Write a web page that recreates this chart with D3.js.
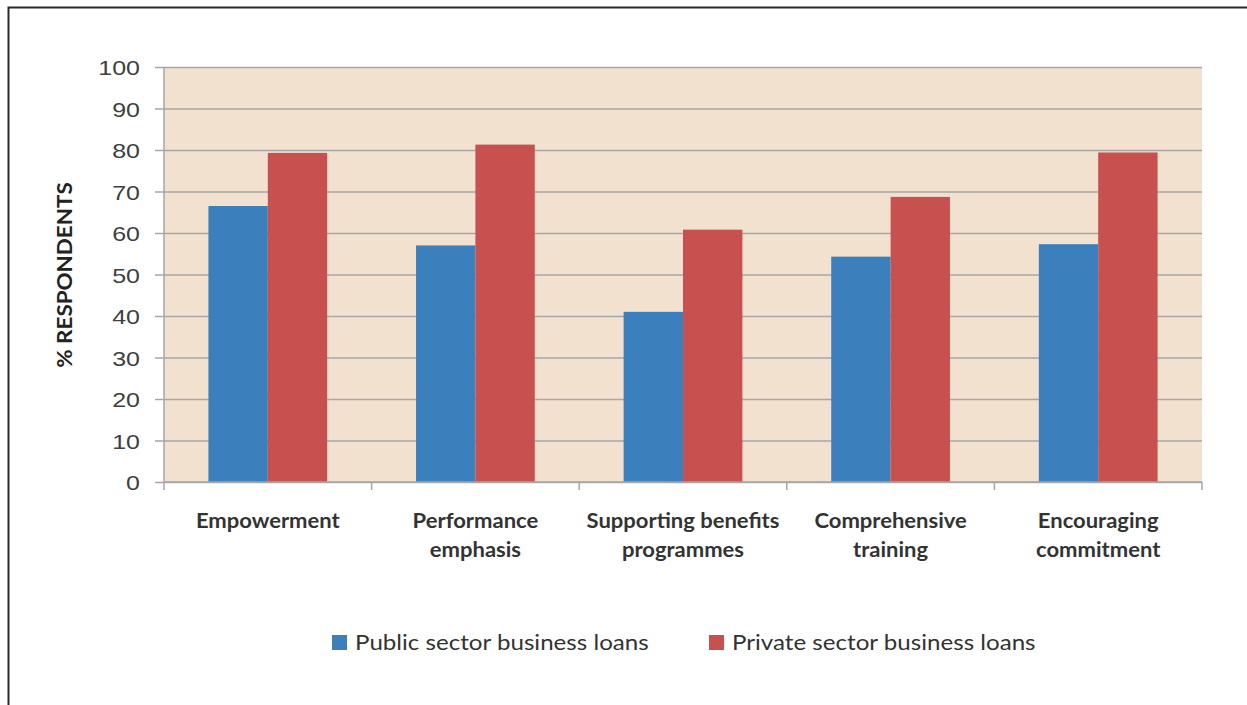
<!DOCTYPE html>
<html>
<head>
<meta charset="utf-8">
<script src="https://cdn.jsdelivr.net/npm/d3@7/dist/d3.min.js"></script>
<style>
  html, body { margin: 0; padding: 0; background: #fff; }
  svg { display: block; font-family: Lato, "Open Sans", sans-serif; }
</style>
</head>
<body>
<svg id="chart" width="1247" height="705"></svg>
<script>
// Share of respondents per HR practice, by loan sector
const categories = [
  ["Empowerment"],
  ["Performance", "emphasis"],
  ["Supporting benefits", "programmes"],
  ["Comprehensive", "training"],
  ["Encouraging", "commitment"]
];
const publicSector = [66.5, 57.0, 41.0, 54.3, 57.3];
const privateSector = [79.3, 81.3, 60.8, 68.7, 79.4];
const seriesNames = ["Public sector business loans", "Private sector business loans"];
const seriesColors = ["#3b80bd", "#c8504e"];
const yTicks = [0, 10, 20, 30, 40, 50, 60, 70, 80, 90, 100];

const svg = d3.select("#chart");
const plot = { left: 164, top: 67, right: 1202, bottom: 482 };
const stretch = 1.15; // the text face runs a little wider than Lato

// outer frame (left and top edges)
svg.append("path")
  .attr("d", "M8.5,705 L8.5,7.5 L1247,7.5")
  .attr("fill", "none").attr("stroke", "#2a2a2a").attr("stroke-width", 2);

const x = d3.scaleBand().domain(d3.range(categories.length))
  .range([plot.left, plot.right]).paddingInner(0).paddingOuter(0);
const y = d3.scaleLinear().domain([0, 100]).range([plot.bottom, plot.top]);

svg.append("rect")
  .attr("x", plot.left).attr("y", plot.top)
  .attr("width", plot.right - plot.left).attr("height", plot.bottom - plot.top)
  .attr("fill", "#f3e1cf");

// horizontal gridlines with left tick stubs
const yAxis = d3.axisLeft(y).tickValues(yTicks).tickSize(9).tickPadding(15);
const gy = svg.append("g").attr("transform", `translate(${plot.left},0)`).call(yAxis);
gy.select(".domain").remove();
gy.selectAll(".tick line").attr("stroke", "#a6a6a6").attr("stroke-width", 1.5);
gy.selectAll(".tick text")
  .attr("fill", "#404040").style("font-size", "21px")
  .attr("x", 0).attr("dy", "0.36em")
  .attr("transform", `translate(-24,0) scale(${stretch + 0.04},1)`);
gy.selectAll(".tick").append("line")
  .attr("x1", 0).attr("x2", plot.right - plot.left)
  .attr("stroke", "#a6a6a6").attr("stroke-width", 1.5);

// bars
const barW = x.bandwidth() * 0.286;
const groups = svg.append("g");
[publicSector, privateSector].forEach((vals, s) => {
  groups.selectAll(null).data(vals).enter().append("rect")
    .attr("x", (d, i) => x(i) + x.bandwidth() / 2 - barW + s * barW)
    .attr("y", d => y(d))
    .attr("width", barW)
    .attr("height", d => y(0) - y(d))
    .attr("fill", seriesColors[s]);
});

// left axis line and bottom axis with category ticks
svg.append("line").attr("x1", plot.left).attr("x2", plot.left)
  .attr("y1", plot.top).attr("y2", plot.bottom)
  .attr("stroke", "#a6a6a6").attr("stroke-width", 1.5);
svg.append("line").attr("x1", plot.left).attr("x2", plot.right)
  .attr("y1", plot.bottom).attr("y2", plot.bottom)
  .attr("stroke", "#a6a6a6").attr("stroke-width", 1.5);
svg.selectAll(null).data(d3.range(categories.length + 1)).enter().append("line")
  .attr("x1", i => plot.left + i * x.step()).attr("x2", i => plot.left + i * x.step())
  .attr("y1", plot.bottom).attr("y2", plot.bottom + 8)
  .attr("stroke", "#a6a6a6").attr("stroke-width", 1.5);

// category labels
const cl = svg.append("g");
categories.forEach((lines, i) => {
  const cx = x(i) + x.bandwidth() / 2;
  const t = cl.append("text")
    .attr("transform", `translate(${cx},528) scale(1.1,1)`)
    .attr("text-anchor", "middle").attr("fill", "#333")
    .style("font-size", "20px").style("font-weight", "bold");
  lines.forEach((ln, k) => t.append("tspan")
    .attr("x", 0).attr("dy", k === 0 ? 0 : 29).text(ln));
});

// y-axis title
svg.append("text")
  .attr("transform", "translate(72,275) rotate(-90) scale(1.12,1)")
  .attr("text-anchor", "middle").attr("fill", "#222")
  .style("font-size", "20px").style("font-weight", "bold")
  .text("% RESPONDENTS");

// legend
const legendX = [332, 709];
seriesNames.forEach((name, s) => {
  svg.append("rect").attr("x", legendX[s]).attr("y", 635)
    .attr("width", 15).attr("height", 15).attr("fill", seriesColors[s]);
  svg.append("text")
    .attr("transform", `translate(${legendX[s] + 23},650) scale(${stretch},1)`)
    .attr("fill", "#333").style("font-size", "21px").text(name);
});
</script>
</body>
</html>
